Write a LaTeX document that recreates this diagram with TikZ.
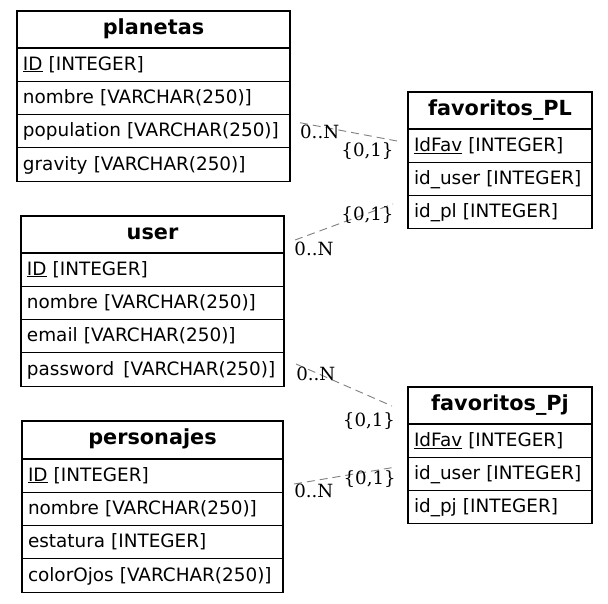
\documentclass[tikz,border=0pt]{standalone}
\usepackage{fontspec}
\setmainfont{DejaVu Sans}
\newfontfamily\cardfont{DejaVu Serif}
\newcommand\keyu[1]{\underline{#1}}
\begin{document}
\begin{tikzpicture}[x=1pt,y=-1pt,
 tbox/.style={draw=black, line width=1.1pt, fill=white, inner xsep=6pt, inner ysep=0pt, outer sep=0pt, anchor=north west},
 hdr/.style={tbox, font=\fontsize{20.8}{24}\selectfont\bfseries, align=center, text height=14pt, text depth=5pt, minimum height=37pt},
 fld/.style={tbox, font=\fontsize{18.4}{22}\selectfont, align=left, text height=14pt, text depth=3pt, minimum height=33.3pt},
 card/.style={font=\cardfont\fontsize{18.2}{22}\selectfont, inner sep=0pt, anchor=base},
 rel/.style={draw=gray, line width=0.9pt, dash pattern=on 8pt off 5pt}]
\useasboundingbox (0,0) rectangle (608,603);
\fill[white] (0,0) rectangle (608,603);

% planetas
\node[hdr, text width=261pt] (planetas) at (17,11) {planetas};
\node[fld, text width=261pt] (pl1) at (17,48) {\keyu{ID} [INTEGER]};
\node[fld, text width=261pt] (pl2) at (17,81.3) {nombre [VARCHAR(250)]};
\node[fld, text width=261pt] (pl3) at (17,114.6) {population [VARCHAR(250)]};
\node[fld, text width=261pt] (pl4) at (17,147.9) {gravity [VARCHAR(250)]};

% favoritos_PL
\node[hdr, text width=172pt] (favPL) at (408,92) {favoritos\_PL};
\node[fld, text width=172pt] (fpl1) at (408,129) {\keyu{IdFav} [INTEGER]};
\node[fld, text width=172pt] (fpl2) at (408,162.3) {id\_user [INTEGER]};
\node[fld, text width=172pt] (fpl3) at (408,195.6) {id\_pl [INTEGER]};

% user
\node[hdr, text width=251pt] (user) at (21,216) {user};
\node[fld, text width=251pt] (us1) at (21,253) {\keyu{ID} [INTEGER]};
\node[fld, text width=251pt] (us2) at (21,286.3) {nombre [VARCHAR(250)]};
\node[fld, text width=251pt] (us3) at (21,319.6) {email [VARCHAR(250)]};
\node[fld, text width=251pt] (us4) at (21,352.9) {password\hspace{3pt} [VARCHAR(250)]};

% favoritos_Pj
\node[hdr, text width=172pt] (favPj) at (408,387) {favoritos\_Pj};
\node[fld, text width=172pt] (fpj1) at (408,424) {\keyu{IdFav} [INTEGER]};
\node[fld, text width=172pt] (fpj2) at (408,457.3) {id\_user [INTEGER]};
\node[fld, text width=172pt] (fpj3) at (408,490.6) {id\_pj [INTEGER]};

% personajes
\node[hdr, text width=249pt, minimum height=38pt] (personajes) at (22,421) {personajes};
\node[fld, text width=249pt] (pe1) at (22,459) {\keyu{ID} [INTEGER]};
\node[fld, text width=249pt] (pe2) at (22,492.3) {nombre [VARCHAR(250)]};
\node[fld, text width=249pt] (pe3) at (22,525.6) {estatura [INTEGER]};
\node[fld, text width=249pt] (pe4) at (22,558.9) {colorOjos [VARCHAR(250)]};

% connector ends
\coordinate (r1a) at (300,122.7);
\coordinate (r1b) at (397,141);
\coordinate (r2a) at (295,240);
\coordinate (r2b) at (393,204);
\coordinate (r3a) at (296,364);
\coordinate (r3b) at (392,406);
\coordinate (r4a) at (294,484);
\coordinate (r4b) at (396,467);

\draw[rel] (r1a) -- (r1b);
\draw[rel] (r2a) -- (r2b);
\draw[rel] (r3a) -- (r3b);
\draw[rel] (r4a) -- (r4b);

% cardinalities
\node[card] (c1a) at (319.7,138.3) {0..N};
\node[card] (c1b) at (367.5,156.7) {\{0,1\}};
\node[card] (c2b) at (367.5,220) {\{0,1\}};
\node[card] (c2a) at (314,255) {0..N};
\node[card] (c3a) at (315.8,380) {0..N};
\node[card] (c3b) at (369,426) {\{0,1\}};
\node[card] (c4a) at (313.8,497) {0..N};
\node[card] (c4b) at (369.7,484) {\{0,1\}};
\end{tikzpicture}
\end{document}
